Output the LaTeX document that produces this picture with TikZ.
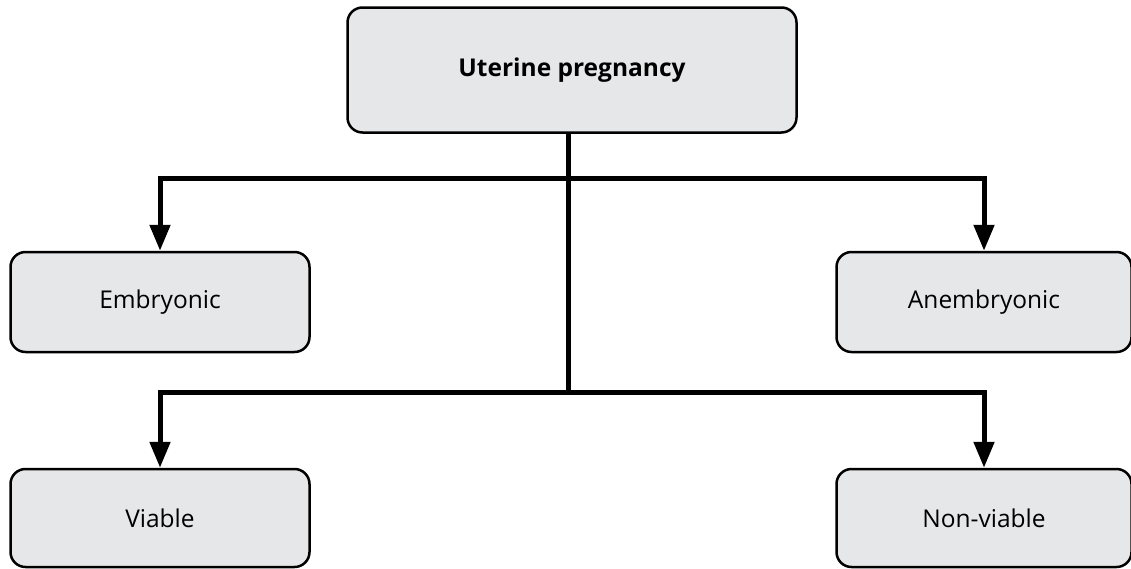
\documentclass[tikz,border=0pt]{standalone}
\usepackage{fontspec}
\setmainfont{Open Sans}
\usetikzlibrary{arrows.meta}
\definecolor{boxfill}{HTML}{E6E7E8}
\tikzset{
  box/.style={draw=black, line width=2.5pt, fill=boxfill, rounded corners=15pt, inner sep=0pt, font=\fontsize{24.5}{29}\selectfont},
  conn/.style={line width=5pt},
  arr/.style={conn, -{Triangle[length=26pt,width=20pt]}}
}
\begin{document}
\begin{tikzpicture}[x=1pt,y=-1pt]
\useasboundingbox (0,0) rectangle (1131,568);
\node[box, minimum width=449pt, minimum height=125pt, font=\fontsize{24.5}{29}\selectfont\bfseries] (top) at (572,70) {Uterine pregnancy};
\node[box, minimum width=299pt, minimum height=100pt] (emb) at (160,302) {Embryonic};
\node[box, minimum width=295pt, minimum height=100pt] (anemb) at (984,302) {Anembryonic};
\node[box, minimum width=299pt, minimum height=98pt] (via) at (160,518) {Viable};
\node[box, minimum width=295pt, minimum height=98pt] (nonvia) at (984,518) {Non-viable};
\coordinate (j1) at (568,178);
\coordinate (j2) at (568,392);
\draw[conn] (top.south -| j1) -- (j2);
\draw[arr] (j1) -| (emb.north);
\draw[arr] (j1) -| (anemb.north);
\draw[arr] (j2) -| (via.north);
\draw[arr] (j2) -| (nonvia.north);
\end{tikzpicture}
\end{document}
